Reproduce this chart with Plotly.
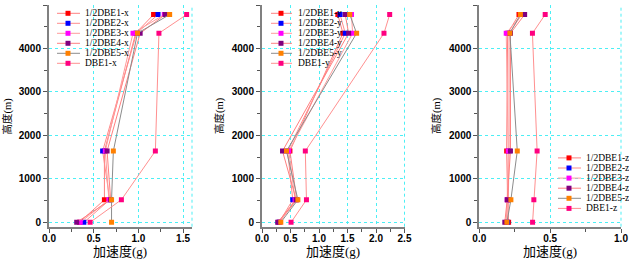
import plotly.graph_objects as go

W, H = 629, 260

heights = [0, 520, 1640, 4350, 4780]

series_names = ["1/2DBE1", "1/2DBE2", "1/2DBE3", "1/2DBE4", "1/2DBE5", "DBE1"]

acc_x = {
    "1/2DBE1": [0.34, 0.62, 0.62, 0.97, 1.17],
    "1/2DBE2": [0.39, 0.68, 0.60, 0.98, 1.22],
    "1/2DBE3": [0.35, 0.67, 0.63, 0.94, 1.29],
    "1/2DBE4": [0.31, 0.69, 0.65, 1.02, 1.30],
    "1/2DBE5": [0.70, 0.70, 0.72, 0.99, 1.35],
    "DBE1":    [0.46, 0.81, 1.19, 1.23, 1.54],
}
acc_y = {
    "1/2DBE1": [0.30, 0.61, 0.49, 1.42, 1.33],
    "1/2DBE2": [0.30, 0.54, 0.45, 1.46, 1.37],
    "1/2DBE3": [0.31, 0.58, 0.47, 1.59, 1.57],
    "1/2DBE4": [0.275, 0.60, 0.36, 1.52, 1.46],
    "1/2DBE5": [0.33, 0.63, 0.43, 1.66, 1.54],
    "DBE1":    [0.51, 0.78, 0.76, 2.14, 2.24],
}
acc_z = {
    "1/2DBE1": [0.207, 0.20, 0.193, 0.20, 0.28],
    "1/2DBE2": [0.20, 0.205, 0.21, 0.21, 0.30],
    "1/2DBE3": [0.19, 0.197, 0.204, 0.19, 0.30],
    "1/2DBE4": [0.18, 0.197, 0.22, 0.22, 0.32],
    "1/2DBE5": [0.195, 0.223, 0.268, 0.216, 0.29],
    "DBE1":    [0.376, 0.385, 0.408, 0.375, 0.465],
}

marker_colors = ["#FF0000", "#0000FF", "#FF00FF", "#800080", "#FF8000", "#FF0080"]
line_colors = ["#FF8080", "#FF8C8C", "#FF9C9C", "#FF8080", "#8C8C8C", "#FF9090"]

x_ranges = [[0, 1.6], [0, 2.5], [0, 1.0]]
y_range = [-100, 5000]
suffixes = ["x", "y", "z"]
datasets = [acc_x, acc_y, acc_z]
x_title = "加速度(g)"
y_title = "高度(m)"

# layout geometry (pixels)
x_doms_px = [(49, 192), (262, 404.5), (479.3, 621)]
y_dom_px = (5, 226.7)
ytitle_x_px = [7.5, 220, 437]

fig = go.Figure()

for p, data in enumerate(datasets):
    xa = "x" if p == 0 else f"x{p+1}"
    ya = "y" if p == 0 else f"y{p+1}"
    for i, name in enumerate(series_names):
        fig.add_trace(go.Scatter(
            x=data[name], y=heights, mode="lines+markers",
            name=f"{name}-{suffixes[p]}",
            line=dict(color=line_colors[i], width=1),
            marker=dict(symbol="square", size=5, color=marker_colors[i],
                        line=dict(width=0)),
            xaxis=xa, yaxis=ya, showlegend=False,
        ))

tickfont = dict(family="Liberation Sans, Arial", size=10, color="#000000", weight="bold")
xtitle_font = dict(family="Liberation Serif, Noto Sans CJK SC", size=13, color="#000000")
ytitle_font = dict(family="Liberation Serif, Noto Sans CJK SC", size=10.5, color="#000000")
grid_col = "#4CEFF5"

layout = dict(
    width=W, height=H,
    margin=dict(l=0, r=0, t=0, b=0, autoexpand=False),
    paper_bgcolor="white", plot_bgcolor="white",
    showlegend=False,
)

for p in range(3):
    xk = "xaxis" if p == 0 else f"xaxis{p+1}"
    yk = "yaxis" if p == 0 else f"yaxis{p+1}"
    xa_anchor = "y" if p == 0 else f"y{p+1}"
    ya_anchor = "x" if p == 0 else f"x{p+1}"
    x0, x1 = x_doms_px[p]
    layout[xk] = dict(
        domain=[x0 / W, x1 / W], range=x_ranges[p], anchor=xa_anchor,
        automargin=False,
        dtick=0.5, tickformat=".1f", ticks="outside", ticklen=4, tickwidth=1,
        tickcolor="#555555", ticklabelstandoff=-3,
        minor=dict(dtick=0.25, ticks="outside", ticklen=3, tickcolor="#555555", showgrid=False),
        showline=True, linecolor="#808080", linewidth=2,
        showgrid=True, gridcolor=grid_col, griddash="dot", gridwidth=1,
        zeroline=False, tickfont=tickfont,
        fixedrange=True,
    )
    layout[yk] = dict(
        domain=[1 - y_dom_px[1] / H, 1 - y_dom_px[0] / H], range=y_range,
        anchor=ya_anchor, automargin=False,
        dtick=1000, ticks="outside", ticklen=4, tickwidth=1, tickcolor="#555555",
        minor=dict(dtick=500, ticks="outside", ticklen=3, tickcolor="#555555", showgrid=False),
        showline=True, linecolor="#808080", linewidth=2,
        showgrid=True, gridcolor=grid_col, griddash="dot", gridwidth=1,
        zeroline=False, tickfont=tickfont,
        fixedrange=True,
    )

fig.update_layout(**layout)

shapes = []
annotations = []

for p in range(3):
    xr = "x" if p == 0 else f"x{p+1}"
    yr = "y" if p == 0 else f"y{p+1}"
    # dotted frame line at the right edge
    shapes.append(dict(type="line", xref=f"{xr} domain", yref=f"{yr} domain",
                       x0=1, x1=1, y0=0, y1=1,
                       line=dict(color=grid_col, width=1, dash="dot"), layer="below"))
    # axis titles
    x0, x1 = x_doms_px[p]
    annotations.append(dict(xref="paper", yref="paper", x=(x0 + x1) / 2 / W,
                            y=1 - 251.5 / H, xanchor="center", yanchor="middle",
                            showarrow=False, text=x_title, font=xtitle_font))
    annotations.append(dict(xref="paper", yref="paper", x=ytitle_x_px[p] / W,
                            y=1 - 116 / H, xanchor="center", yanchor="middle",
                            showarrow=False, text=y_title, font=ytitle_font,
                            textangle=-90))

# manual legends
legend_specs = [
    dict(line=(57, 80), mk=68, tx=83, rows=[13.3 + 10 * k for k in range(6)]),
    dict(line=(271, 292), mk=281, tx=296, rows=[13.3 + 10 * k for k in range(6)]),
    dict(line=(558, 581), mk=569, tx=584, rows=[157.9 + 10.1 * k for k in range(6)]),
]
leg_font = dict(family="Liberation Serif, Times New Roman", size=9.5, color="#000000")
for p, spec in enumerate(legend_specs):
    for i, name in enumerate(series_names):
        yy = 1 - spec["rows"][i] / H
        shapes.append(dict(type="line", xref="paper", yref="paper",
                           x0=spec["line"][0] / W, x1=spec["line"][1] / W, y0=yy, y1=yy,
                           line=dict(color=line_colors[i], width=1)))
        hs = 2.5
        shapes.append(dict(type="rect", xref="paper", yref="paper",
                           x0=(spec["mk"] - hs) / W, x1=(spec["mk"] + hs) / W,
                           y0=yy - hs / H, y1=yy + hs / H,
                           fillcolor=marker_colors[i], line=dict(width=0)))
        annotations.append(dict(xref="paper", yref="paper", x=spec["tx"] / W, y=yy,
                                xanchor="left", yanchor="middle", showarrow=False,
                                text=f"{name}-{suffixes[p]}", font=leg_font))

fig.update_layout(shapes=shapes, annotations=annotations)

fig.write_html(
    "out.html",
    config={"displayModeBar": False},
    post_script="document.body.style.margin='0';document.body.style.overflow='hidden';",
)
